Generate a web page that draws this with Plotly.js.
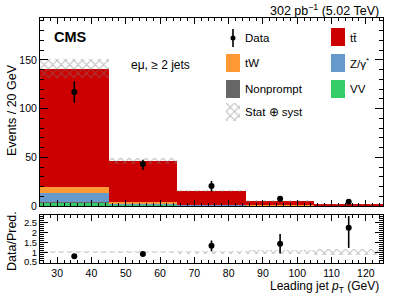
<!DOCTYPE html>
<html><head><meta charset="utf-8">
<script src="https://cdn.plot.ly/plotly-3.0.1.min.js"></script>
<style>body{margin:0;padding:0;background:#fff}#c{width:407px;height:299px}</style>
</head><body><div id="c"></div>
<script>
// ---- data ----
const binCenters = [35, 55, 75, 95, 115];
const binWidth = 20;
const vv        = [3.4, 0.8, 0.3, 0.1, 0.05];
const nonprompt = [0.3, 0.5, 0.2, 0.1, 0.05];
const zgamma    = [9.6, 1.0, 0.3, 0.1, 0.05];
const tw        = [5.8, 1.3, 0.6, 0.3, 0.1];
const ttbar     = [121.9, 42.9, 14.1, 4.6, 1.55];
const systUnc   = [10, 3, 1.4, 0.6, 0.35];
const dataY     = [117, 43, 20.6, 7.4, 4.4];
const dataErrHi = [11, 4.6, 5.2, 2.8, 2.2];
const dataErrLo = [11, 6.0, 5.8, 2.7, 2.1];
const ratioY     = [0.79, 0.91, 1.33, 1.43, 2.25];
const ratioErrHi = [0.07, 0.12, 0.27, 0.50, 0.60];
const ratioErrLo = [0.07, 0.12, 0.28, 0.49, 1.03];
const ratioUnc   = [0.06, 0.06, 0.08, 0.09, 0.15];
const xTickVals = [30, 40, 50, 60, 70, 80, 90, 100, 110, 120];

const FONT = 'Liberation Sans, Arial, Helvetica, sans-serif';
const comps = [
  {name:'VV', y:vv, color:'#33cc66'},
  {name:'Nonprompt', y:nonprompt, color:'#666666'},
  {name:'Z/γ*', y:zgamma, color:'#6699cc'},
  {name:'tW', y:tw, color:'#ff9933'},
  {name:'tt̄', y:ttbar, color:'#cc0000'}
];
const traces = [];
let cum = binCenters.map(()=>0);
comps.forEach(c => {
  traces.push({type:'bar', x:binCenters, y:c.y, base:cum.slice(), width:binWidth,
    marker:{color:c.color, line:{width:0}}, xaxis:'x', yaxis:'y', showlegend:false, hoverinfo:'skip'});
  cum = cum.map((v,i)=>v + c.y[i]);
});
const total = cum;
const hatch = () => ({shape:'x', fgcolor:'#7a7a7a', bgcolor:'rgba(0,0,0,0)', size:6, solidity:0.3, fillmode:'overlay'});
traces.push({type:'bar', x:binCenters, y:systUnc.map(u=>2*u), base:total.map((t,i)=>t-systUnc[i]), width:binWidth,
  marker:{color:'rgba(0,0,0,0)', line:{width:0}, pattern:hatch()}, xaxis:'x', yaxis:'y', showlegend:false, hoverinfo:'skip'});
traces.push({type:'scatter', mode:'markers', x:binCenters, y:dataY,
  error_y:{type:'data', symmetric:false, array:dataErrHi, arrayminus:dataErrLo, width:0, thickness:1.6, color:'#000'},
  marker:{color:'#000', size:6}, xaxis:'x', yaxis:'y', showlegend:false});
// ratio
traces.push({type:'bar', x:binCenters, y:ratioUnc.map(u=>2*u), base:ratioUnc.map(u=>1-u), width:binWidth,
  marker:{color:'rgba(0,0,0,0)', line:{width:0}, pattern:hatch()},
  xaxis:'x2', yaxis:'y2', showlegend:false, hoverinfo:'skip'});
traces.push({type:'scatter', mode:'markers', x:binCenters, y:ratioY,
  error_y:{type:'data', symmetric:false, array:ratioErrHi, arrayminus:ratioErrLo, width:0, thickness:1.6, color:'#000'},
  marker:{color:'#000', size:6}, xaxis:'x2', yaxis:'y2', showlegend:false});
// legend hatch icon (drawn through its own small axes)
traces.push({type:'bar', x:[0.5], y:[1], width:1,
  marker:{color:'rgba(0,0,0,0)', line:{width:0}, pattern:hatch()}, xaxis:'x3', yaxis:'y3', showlegend:false, hoverinfo:'skip'});

const axBase = {showline:true, linecolor:'#000', linewidth:1, mirror:'allticks', ticks:'inside', tickcolor:'#000',
  showgrid:false, zeroline:false, tickfont:{family:FONT, size:10.5, color:'#000'}};
const L=40, R=24, T=18, B=36, W=407, H=299;
const pw = W-L-R, ph = H-T-B;
const px = x => (x-L)/pw, py = y => (H-B-y)/ph;

const shapes = [];
const ann = [];
function box(x0,y0,color){ shapes.push({type:'rect', xref:'paper', yref:'paper', x0:px(x0), x1:px(x0+14), y0:py(y0+18), y1:py(y0), fillcolor:color, line:{width:0}}); }
function label(x,y,text,size){ ann.push({xref:'paper', yref:'paper', x:px(x), y:py(y), xanchor:'left', yanchor:'middle', text:text, showarrow:false, font:{family:FONT, size:size||11.5, color:'#000'}}); }
// legend
shapes.push({type:'line', xref:'paper', yref:'paper', x0:px(233), x1:px(233), y0:py(29), y1:py(47), line:{color:'#000', width:1.6}});
shapes.push({type:'circle', xref:'paper', yref:'paper', x0:px(230.5), x1:px(235.5), y0:py(40.5), y1:py(35.5), fillcolor:'#000', line:{width:0}});
label(243, 38, 'Data');
box(331, 28, '#cc0000'); label(348, 38, 'tt̄');
box(226, 54, '#ff9933'); label(243, 63, 'tW');
box(331, 54, '#6699cc'); label(348, 63, 'Z/γ<sup>*</sup>');
box(226, 80, '#666666'); label(243, 89, 'Nonprompt');
box(331, 80, '#33cc66'); label(348, 89, 'VV');
label(243, 112, 'Stat ⊕ syst');
// texts
ann.push({xref:'paper', yref:'paper', x:px(381), y:py(10), xanchor:'right', yanchor:'middle', text:'302 pb<sup>−1</sup> (5.02 TeV)', showarrow:false, font:{family:FONT, size:12.5, color:'#000'}});
ann.push({xref:'paper', yref:'paper', x:px(52), y:py(37), xanchor:'left', yanchor:'middle', text:'<b>CMS</b>', showarrow:false, font:{family:FONT, size:14.5, color:'#000'}});
label(129, 65, 'eμ, ≥ 2 jets', 12);
ann.push({xref:'paper', yref:'paper', x:px(381), y:py(287), xanchor:'right', yanchor:'middle', text:'Leading jet <i>p</i><sub>T</sub> (GeV)', showarrow:false, font:{family:FONT, size:12, color:'#000'}});
ann.push({xref:'paper', yref:'paper', x:px(12), y:py(110), xanchor:'center', yanchor:'middle', textangle:-90, text:'Events / 20 GeV', showarrow:false, font:{family:FONT, size:12.5, color:'#000'}});
ann.push({xref:'paper', yref:'paper', x:px(12), y:py(241), xanchor:'center', yanchor:'middle', textangle:-90, text:'Data/Pred.', showarrow:false, font:{family:FONT, size:12.5, color:'#000'}});

const mainBottom = (H-B-206)/ph;
const ratioTop = (H-B-215)/ph;
const hidden = {visible:false, showgrid:false, zeroline:false, fixedrange:true};
const layout = {
  width:W, height:H, margin:{l:L, r:R, t:T, b:B}, paper_bgcolor:'#fff', plot_bgcolor:'rgba(0,0,0,0)',
  barmode:'overlay', bargap:0, showlegend:false,
  xaxis: Object.assign({}, axBase, {domain:[0,1], anchor:'y', range:[25,125], tickvals:xTickVals, showticklabels:false, ticklen:6,
     minor:{dtick:2, tick0:0, ticklen:3, ticks:'inside', tickcolor:'#000'}}),
  yaxis: Object.assign({}, axBase, {domain:[mainBottom,1], anchor:'x', range:[0,193], dtick:50, tick0:0, ticklen:8,
     minor:{dtick:10, tick0:0, ticklen:4, ticks:'inside', tickcolor:'#000'}}),
  xaxis2: Object.assign({}, axBase, {domain:[0,1], anchor:'y2', range:[25,125], tickvals:xTickVals, ticklen:6,
     minor:{dtick:2, tick0:0, ticklen:3, ticks:'inside', tickcolor:'#000'}}),
  yaxis2: Object.assign({}, axBase, {domain:[0,ratioTop], anchor:'x2', range:[0.45,2.9], dtick:0.5, tick0:0.5, ticklen:8,
     tickfont:{family:FONT, size:9.5, color:'#000'},
     minor:{dtick:0.1, tick0:0, ticklen:4, ticks:'inside', tickcolor:'#000'}}),
  xaxis3: Object.assign({}, hidden, {domain:[px(226), px(240)], anchor:'y3', range:[0,1]}),
  yaxis3: Object.assign({}, hidden, {domain:[py(121), py(103)], anchor:'x3', range:[0,1]}),
  shapes:shapes, annotations:ann
};
Plotly.newPlot('c', traces, layout, {staticPlot:true});
</script></body></html>
